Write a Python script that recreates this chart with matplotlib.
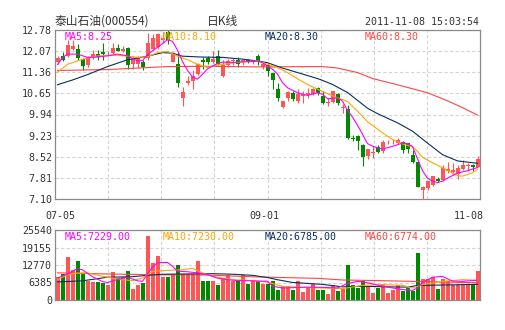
import numpy as np
import matplotlib
matplotlib.use("Agg")
import matplotlib.pyplot as plt

plt.rcParams['font.family'] = ['Noto Sans CJK SC', 'DejaVu Sans']

# 日K数据 2011-07-05 .. 2011-11-08 (85 trading days)
opens = [11.70, 11.92, 11.92, 12.15, 12.14, 11.81, 11.59, 11.85, 11.96, 12.04,
         11.97, 12.00, 12.18, 12.07, 12.18, 11.64, 11.64, 11.70, 11.84, 12.15,
         12.21, 12.46, 12.71, 11.72, 11.64, 10.49, 10.99, 11.08, 11.30, 11.76,
         11.84, 11.70, 11.89, 11.25, 11.59, 11.73, 11.76, 11.71, 11.78, 11.69,
         11.91, 11.53, 11.61, 11.33, 10.81, 10.19, 10.50, 10.67, 10.39, 10.56,
         10.58, 10.62, 10.84, 10.56, 10.31, 10.36, 10.62, 10.15, 10.11, 9.14,
         9.21, 8.92, 8.53, 8.64, 8.85, 8.70, 9.01, 9.01, 8.98, 9.00,
         8.98, 8.59, 8.33, 7.40, 7.46, 7.57, 7.78, 7.74, 8.03, 8.00,
         7.95, 8.12, 8.20, 8.25, 8.19]
highs = [11.92, 12.04, 12.43, 12.45, 12.30, 11.85, 11.92, 12.11, 12.11, 12.34,
         12.09, 12.34, 12.30, 12.25, 12.20, 11.92, 11.92, 11.76, 12.68, 12.65,
         12.67, 12.72, 12.78, 12.05, 12.04, 10.85, 11.25, 11.42, 11.66, 11.87,
         11.90, 12.07, 12.11, 11.76, 11.80, 11.84, 11.87, 11.80, 11.81, 11.78,
         11.98, 11.67, 11.63, 11.35, 11.01, 10.41, 10.73, 10.73, 10.79, 10.73,
         10.82, 10.82, 10.87, 10.73, 10.50, 10.74, 10.67, 10.28, 10.25, 9.26,
         9.26, 8.96, 8.78, 8.87, 8.90, 9.09, 9.09, 9.12, 9.14, 9.04,
         8.98, 8.76, 8.33, 7.55, 7.72, 7.88, 7.83, 8.25, 8.36, 8.31,
         8.25, 8.42, 8.30, 8.28, 8.53]
lows = [11.64, 11.74, 11.87, 12.10, 11.76, 11.44, 11.55, 11.81, 11.78, 11.76,
        11.89, 11.96, 12.06, 12.04, 11.47, 11.47, 11.50, 11.42, 11.76, 12.08,
        12.15, 12.35, 12.32, 11.70, 10.85, 10.23, 10.94, 10.80, 11.27, 11.47,
        11.64, 11.67, 11.62, 11.19, 11.55, 11.62, 11.55, 11.62, 11.67, 11.65,
        11.62, 11.47, 11.24, 10.81, 10.39, 10.17, 10.39, 10.40, 10.34, 10.34,
        10.50, 10.58, 10.60, 10.28, 10.22, 10.34, 10.27, 10.00, 9.13, 9.04,
        8.76, 8.22, 8.45, 8.48, 8.65, 8.65, 8.94, 8.94, 8.94, 8.66,
        8.65, 8.31, 7.49, 7.10, 7.40, 7.53, 7.66, 7.72, 7.97, 7.89,
        7.77, 8.08, 8.05, 8.04, 8.16]
closes = [11.84, 11.78, 12.26, 12.24, 11.84, 11.56, 11.87, 11.96, 11.88, 11.97,
          11.99, 12.18, 12.09, 12.15, 11.59, 11.79, 11.84, 11.53, 12.34, 12.52,
          12.63, 12.50, 12.45, 12.01, 10.99, 10.71, 11.08, 11.25, 11.64, 11.70,
          11.71, 11.81, 11.64, 11.62, 11.73, 11.78, 11.65, 11.78, 11.70, 11.74,
          11.73, 11.64, 11.40, 11.10, 10.50, 10.39, 10.70, 10.47, 10.62, 10.62,
          10.67, 10.79, 10.65, 10.34, 10.37, 10.73, 10.31, 10.19, 9.15, 9.12,
          9.06, 8.51, 8.78, 8.68, 8.68, 9.02, 9.03, 9.03, 9.09, 8.76,
          8.78, 8.33, 7.52, 7.52, 7.69, 7.86, 7.70, 8.14, 8.12, 8.08,
          8.14, 8.23, 8.23, 8.16, 8.44]
volumes = [8500, 9500, 15700, 10900, 14230, 9500, 7050, 6400, 6600, 6250,
           5550, 10300, 8100, 8500, 10580, 4000, 5500, 6250, 23400, 13560,
           16000, 8450, 8450, 9000, 12770, 9500, 9480, 9500, 14230, 7050,
           7050, 7050, 5600, 8100, 9300, 7050, 6800, 9300, 5900, 7050,
           6800, 5950, 5960, 6800, 3770, 4990, 4620, 3770, 7050, 2920,
           4620, 5960, 3770, 3770, 2190, 5350, 3400, 4380, 12890, 5590,
           4380, 7050, 4990, 2550, 4380, 5840, 2550, 3770, 5590, 3400,
           4380, 3400, 17150, 7780, 7780, 8270, 4130, 7780, 7050, 5350,
           5350, 5350, 5350, 5590, 10700]

# 均线 (读自图上, (index, value))
ma5_pts = [(0, 11.62), (1, 11.85), (2, 11.97), (4, 11.97), (6, 11.86), (8, 11.87),
           (10, 11.91), (12, 11.97), (14, 11.91), (16, 11.74), (17, 11.75), (18, 11.95),
           (19, 12.08), (20, 12.20), (21, 12.32), (22, 12.45), (23, 12.40), (24, 12.10),
           (25, 11.72), (26, 11.42), (27, 11.20), (28, 11.13), (29, 11.29), (30, 11.47),
           (31, 11.57), (32, 11.65), (33, 11.70), (35, 11.69), (37, 11.71), (39, 11.72),
           (40, 11.74), (41, 11.68), (42, 11.57), (43, 11.46), (44, 11.30), (45, 11.01),
           (46, 10.84), (48, 10.67), (50, 10.58), (52, 10.67), (53, 10.62), (54, 10.47),
           (56, 10.50), (57, 10.39), (58, 10.08), (59, 9.85), (60, 9.58), (61, 9.28),
           (62, 8.96), (63, 8.88), (64, 8.82), (65, 8.78), (67, 8.87), (69, 8.98),
           (70, 8.96), (71, 8.87), (72, 8.45), (73, 8.05), (74, 7.80), (75, 7.70),
           (76, 7.65), (77, 7.70), (78, 7.80), (80, 7.97), (82, 8.05), (84, 8.16)]
ma10_pts = [(0, 11.36), (2, 11.63), (4, 11.74), (6, 11.84), (8, 11.91), (10, 11.93),
            (12, 11.93), (14, 11.90), (16, 11.86), (18, 11.88), (20, 12.02), (22, 12.06),
            (24, 11.90), (26, 11.78), (28, 11.63), (30, 11.52), (32, 11.60), (34, 11.65),
            (36, 11.69), (38, 11.72), (40, 11.74), (42, 11.63), (44, 11.52), (46, 11.35),
            (48, 11.14), (50, 10.95), (52, 10.79), (54, 10.64), (56, 10.50), (58, 10.38),
            (60, 10.05), (62, 9.70), (64, 9.45), (65, 9.32), (67, 9.10), (69, 8.95),
            (71, 8.85), (72, 8.70), (73, 8.50), (75, 8.32), (77, 8.15), (79, 7.97),
            (80, 7.88), (81, 7.87), (82, 7.92), (83, 7.98), (84, 8.10)]
ma20_pts = [(0, 10.94), (3, 11.10), (6, 11.28), (10, 11.55), (14, 11.78), (18, 11.90),
            (21, 12.02), (23, 12.00), (25, 11.90), (29, 11.87), (33, 11.86), (37, 11.80),
            (40, 11.74), (42, 11.68), (45, 11.50), (50, 11.25), (52.5, 11.12), (55, 10.95),
            (58, 10.68), (62, 10.15), (64, 9.97), (68, 9.66), (71, 9.38), (74, 8.98),
            (77, 8.59), (80, 8.38), (84, 8.30)]
ma60_pts = [(0, 11.42), (10, 11.45), (16, 11.50), (22, 11.55), (30, 11.56), (40, 11.54),
            (50, 11.55), (53, 11.55), (56, 11.50), (60, 11.35), (63, 11.15), (67, 10.98),
            (70, 10.85), (74, 10.67), (78, 10.40), (81, 10.17), (84, 9.92)]

vma5_pts = [(0, 8000), (2, 9500), (4, 11500), (5, 11000), (7, 8500), (9, 6700), (10, 6350),
            (12, 7500), (14, 8300), (16, 7000), (17, 6800), (18, 9500), (19, 12000),
            (20, 13600), (21, 13650), (22, 13700), (23, 12300), (24, 10500), (26, 10300),
            (28, 9900), (30, 9200), (32, 8000), (34, 7400), (36, 7100), (39, 7000),
            (42, 6800), (43, 5000), (45, 4400), (47, 4500), (50, 4700), (53, 4600),
            (56, 4400), (58, 6000), (60, 6800), (62, 6300), (65, 5000), (67, 4400),
            (69, 3800), (71, 3500), (72, 4400), (73, 6500), (75, 8300), (77, 8600),
            (79, 6900), (81, 6800), (84, 7229)]
vma10_pts = [(0, 7420), (2, 9240), (4, 9850), (6, 9850), (9, 8640), (13, 7420), (15, 7060),
             (17, 8030), (19, 10460), (21, 10700), (25, 11070), (27, 11560), (29, 9850),
             (31, 8640), (35, 7420), (39, 7060), (42, 6500), (45, 5000), (49, 4620),
             (53, 4380), (57, 4140), (61, 5350), (65, 5600), (69, 5350), (71, 4380),
             (73, 5600), (77, 6810), (81, 7420), (84, 7230)]
vma20_pts = [(0, 6600), (5, 7000), (10, 8300), (15, 8500), (18, 9000), (21, 9400),
             (26, 9500), (31, 9600), (35, 9400), (39, 9000), (42, 8200), (44, 7400),
             (47, 6400), (53, 5700), (57, 4800), (61, 5000), (66, 4800), (70, 4700),
             (72, 5300), (78, 5500), (84, 5700)]
vma60_pts = [(0, 9900), (10, 9500), (20, 9200), (30, 9100), (40, 8400), (52, 7900),
             (57, 7300), (65, 7050), (73, 6700), (84, 6300)]

price_ticks = [7.10, 7.81, 8.52, 9.23, 9.94, 10.65, 11.36, 12.07, 12.78]
vol_ticks = [0, 6385, 12770, 19155, 25540]
date_labels = ["07-05", "09-01", "11-08"]
date_pos = [0.5, 41.3, 82.3]

ma_labels = ["MA5:8.25", "MA10:8.10", "MA20:8.30", "MA60:8.30"]
vma_labels = ["MA5:7229.00", "MA10:7230.00", "MA20:6785.00", "MA60:6774.00"]
ma_colors = ["#ff00ff", "#ffa500", "#0a2f5c", "#ff4444"]

RED = "#ff5555"
GREEN = "#008800"
mono = "DejaVu Sans Mono"

o = np.array(opens); h = np.array(highs); l = np.array(lows); c = np.array(closes)
x = np.arange(len(o))
up = c >= o
cols = np.where(up, RED, GREEN)

fig = plt.figure(figsize=(5.05, 3.30), dpi=100)
ax = fig.add_axes([55/505, 131/330, 425/505, 169/330])
axv = fig.add_axes([55/505, 30/330, 425/505, 70/330])

grid_x = [-0.5 + 85 * k / 8 for k in range(1, 8)]
for a in (ax, axv):
    a.set_xlim(-0.5, 84.5)
    a.set_xticks(grid_x)
    a.set_xticklabels([])
    a.tick_params(length=0, labelsize=7.2, colors="#333333", pad=2)
    a.grid(True, ls=(0, (3, 2)), color="#d4d4d4", lw=0.8)
    a.set_axisbelow(True)
    for s in a.spines.values():
        s.set_color("#8a8a8a")
        s.set_linewidth(0.9)

# 价格
ax.set_ylim(7.10, 12.78)
ax.set_yticks(price_ticks)
ax.set_yticklabels(["%.2f" % t for t in price_ticks], family=mono)
ax.vlines(x, l, h, colors=cols, lw=0.8)
body = np.maximum(np.abs(c - o), 0.02)
ax.bar(x, body, bottom=np.minimum(o, c), width=0.8, color=cols, linewidth=0)
for pts, col in zip([ma60_pts, ma20_pts, ma10_pts, ma5_pts], ma_colors[::-1]):
    p = np.array(pts)
    ax.plot(p[:, 0], p[:, 1], color=col, lw=0.8)

# 成交量
axv.set_ylim(0, 25540)
axv.set_yticks(vol_ticks)
axv.set_yticklabels([str(t) for t in vol_ticks], family=mono)
axv.bar(x, volumes, width=0.8, color=cols, linewidth=0)
for pts, col in zip([vma60_pts, vma20_pts, vma10_pts, vma5_pts], ma_colors[::-1]):
    p = np.array(pts)
    axv.plot(p[:, 0], p[:, 1], color=col, lw=0.8)

for pos, lab in zip(date_pos, date_labels):
    ax.text(pos, -0.10, lab, transform=ax.get_xaxis_transform(), ha="center",
            va="center", family=mono, fontsize=7.2, color="#333333")

leg_x = [65, 163, 265, 365]
for lx, lab, col in zip(leg_x, ma_labels, ma_colors):
    fig.text(lx/505, 1 - 37/330, lab, family=mono, fontsize=7.2, color=col, va="center")
for lx, lab, col in zip(leg_x, vma_labels, ma_colors):
    fig.text(lx/505, 1 - 237/330, lab, family=mono, fontsize=7.2, color=col, va="center")

fig.text(55/505, 1 - 21/330, "泰山石油(000554)", fontsize=8.5, color="#333333", va="center")
fig.text(207/505, 1 - 21/330, "日K线", fontsize=8.5, color="#333333", va="center")
fig.text(479/505, 1 - 22/330, "2011-11-08 15:03:54", family=mono, fontsize=7.2,
         color="#333333", va="center", ha="right")

fig.savefig("out.png", dpi=100)
